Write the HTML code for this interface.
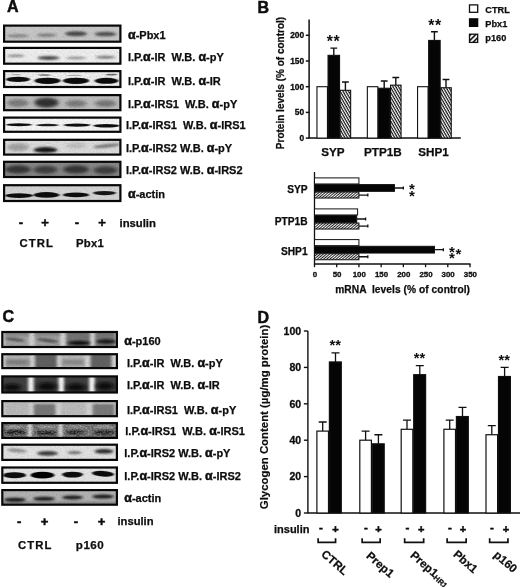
<!DOCTYPE html>
<html><head><meta charset="utf-8"><title>Figure</title>
<style>html,body{margin:0;padding:0;background:#fff;}svg{display:block;}text{font-family:"Liberation Sans", sans-serif;font-weight:bold;fill:#0d0d0d;}</style>
</head><body>
<svg width="520" height="587" viewBox="0 0 520 587">
<defs>
<filter id="b1" x="-30%" y="-80%" width="160%" height="260%"><feGaussianBlur stdDeviation="1.6 0.9"/></filter>
<filter id="b2" x="-30%" y="-80%" width="160%" height="260%"><feGaussianBlur stdDeviation="2.2 1.6"/></filter>
<filter id="b3" x="-30%" y="-80%" width="160%" height="260%"><feGaussianBlur stdDeviation="1.2 0.6"/></filter>
<filter id="b4" x="-30%" y="-30%" width="160%" height="160%"><feGaussianBlur stdDeviation="1.5 1.0"/></filter>
<filter id="b5" x="-60%" y="-30%" width="220%" height="160%"><feGaussianBlur stdDeviation="1.8 0.5"/></filter>
<filter id="grain" x="0" y="0" width="100%" height="100%"><feTurbulence type="fractalNoise" baseFrequency="0.55 0.9" numOctaves="2" seed="7" result="n"/><feColorMatrix type="matrix" values="0 0 0 0 0  0 0 0 0 0  0 0 0 0 0  1.6 0 0 0 -0.55"/><feGaussianBlur stdDeviation="0.5"/></filter>
<filter id="grainw" x="0" y="0" width="100%" height="100%"><feTurbulence type="fractalNoise" baseFrequency="0.5 0.8" numOctaves="2" seed="23" result="n"/><feColorMatrix type="matrix" values="0 0 0 0 1  0 0 0 0 1  0 0 0 0 1  0 1.6 0 0 -0.6"/><feGaussianBlur stdDeviation="0.5"/></filter>
<pattern id="hat" width="2.4" height="2.4" patternUnits="userSpaceOnUse" patternTransform="rotate(60)"><rect width="2.4" height="2.4" fill="#fff"/><rect width="2.4" height="1.2" fill="#111"/></pattern>
<pattern id="hat2" width="2" height="2" patternUnits="userSpaceOnUse" patternTransform="rotate(-40)"><rect width="2" height="2" fill="#fff"/><rect width="2" height="1" fill="#222"/></pattern>
<pattern id="hat3" width="3.6" height="3.6" patternUnits="userSpaceOnUse" patternTransform="rotate(-45)"><rect width="3.6" height="3.6" fill="#fff"/><rect width="3.6" height="1.6" fill="#111"/></pattern>
</defs>
<rect width="520" height="587" fill="#fff"/>
<text x="7.00" y="12.00" font-size="16.00" text-anchor="start"  stroke="#0d0d0d" stroke-width="0.50">A</text>
<clipPath id="c1"><rect x="4.10" y="25.60" width="116.30" height="16.10"/></clipPath>
<g clip-path="url(#c1)">
<rect x="3.00" y="24.50" width="118.50" height="18.30" fill="#c9c9c9"/>
<g filter="url(#b1)"><ellipse cx="18.00" cy="35.85" rx="11.00" ry="1.70" fill="#858585" opacity="1"/></g>
<g filter="url(#b1)"><ellipse cx="46.50" cy="35.11" rx="10.00" ry="1.70" fill="#7c7c7c" opacity="1"/></g>
<g filter="url(#b1)"><ellipse cx="76.00" cy="33.65" rx="11.00" ry="2.50" fill="#484848" opacity="1"/></g>
<g filter="url(#b1)"><ellipse cx="105.50" cy="34.02" rx="11.00" ry="2.30" fill="#525252" opacity="1"/></g>
<rect x="3.00" y="24.50" width="118.50" height="18.30" fill="#000" opacity="0.12" filter="url(#grain)"/>
</g>
<rect x="4.10" y="25.60" width="116.30" height="16.10" fill="none" stroke="#080808" stroke-width="2.20"/>
<clipPath id="c2"><rect x="4.10" y="47.90" width="116.30" height="15.80"/></clipPath>
<g clip-path="url(#c2)">
<rect x="3.00" y="46.80" width="118.50" height="18.00" fill="#f1f1f1"/>
<g filter="url(#b1)"><ellipse cx="16.00" cy="55.80" rx="9.00" ry="1.20" fill="#8a8a8a" opacity="1"/></g>
<g filter="url(#b1)"><ellipse cx="48.50" cy="57.96" rx="11.00" ry="2.00" fill="#484848" opacity="1"/></g>
<g filter="url(#b1)"><ellipse cx="76.00" cy="57.96" rx="10.00" ry="1.20" fill="#8c8c8c" opacity="1"/></g>
<g filter="url(#b1)"><ellipse cx="105.50" cy="57.24" rx="10.00" ry="1.40" fill="#777" opacity="1"/></g>
<rect x="3.00" y="46.80" width="118.50" height="18.00" fill="#000" opacity="0.12" filter="url(#grain)"/>
</g>
<rect x="4.10" y="47.90" width="116.30" height="15.80" fill="none" stroke="#080808" stroke-width="2.20"/>
<clipPath id="c3"><rect x="4.10" y="71.10" width="116.30" height="15.90"/></clipPath>
<g clip-path="url(#c3)">
<rect x="3.00" y="70.00" width="118.50" height="18.10" fill="#f4f4f4"/>
<g filter="url(#b3)"><ellipse cx="18.00" cy="79.41" rx="12.00" ry="2.60" fill="#0c0c0c" opacity="1"/></g>
<g filter="url(#b3)"><ellipse cx="47.50" cy="80.86" rx="13.00" ry="3.20" fill="#080808" opacity="1"/></g>
<g filter="url(#b3)"><ellipse cx="76.00" cy="80.86" rx="13.00" ry="3.20" fill="#080808" opacity="1"/></g>
<g filter="url(#b3)"><ellipse cx="106.50" cy="80.86" rx="12.00" ry="3.00" fill="#101010" opacity="1"/></g>
<g filter="url(#b3)"><ellipse cx="44.50" cy="75.07" rx="6.00" ry="0.80" fill="#333" opacity="0.7"/></g>
<g filter="url(#b3)"><ellipse cx="111.50" cy="74.53" rx="6.00" ry="0.90" fill="#333" opacity="0.7"/></g>
<g filter="url(#b3)"><ellipse cx="16.00" cy="74.53" rx="5.00" ry="0.60" fill="#777" opacity="0.6"/></g>
<g filter="url(#b3)"><ellipse cx="74.00" cy="75.43" rx="8.00" ry="0.60" fill="#888" opacity="0.6"/></g>
<rect x="3.00" y="70.00" width="118.50" height="18.10" fill="#000" opacity="0.18" filter="url(#grain)"/>
</g>
<rect x="4.10" y="71.10" width="116.30" height="15.90" fill="none" stroke="#080808" stroke-width="2.20"/>
<clipPath id="c4"><rect x="4.10" y="95.10" width="116.30" height="15.10"/></clipPath>
<g clip-path="url(#c4)">
<rect x="3.00" y="94.00" width="118.50" height="17.30" fill="#c0c0c0"/>
<g filter="url(#b2)"><ellipse cx="18.00" cy="103.00" rx="11.00" ry="4.00" fill="#7d7d7d" opacity="1"/></g>
<g filter="url(#b2)"><ellipse cx="46.50" cy="102.65" rx="12.00" ry="5.00" fill="#333" opacity="1"/></g>
<g filter="url(#b2)"><ellipse cx="76.00" cy="103.52" rx="11.00" ry="3.50" fill="#7a7a7a" opacity="1"/></g>
<g filter="url(#b2)"><ellipse cx="105.50" cy="103.52" rx="11.00" ry="3.50" fill="#777" opacity="1"/></g>
<rect x="3.00" y="94.00" width="118.50" height="17.30" fill="#000" opacity="0.12" filter="url(#grain)"/>
</g>
<rect x="4.10" y="95.10" width="116.30" height="15.10" fill="none" stroke="#080808" stroke-width="2.20"/>
<clipPath id="c5"><rect x="4.10" y="117.60" width="116.30" height="14.20"/></clipPath>
<g clip-path="url(#c5)">
<rect x="3.00" y="116.50" width="118.50" height="16.40" fill="#f7f7f7"/>
<g filter="url(#b3)"><ellipse cx="19.00" cy="124.70" rx="13.00" ry="1.50" fill="#111" opacity="1"/></g>
<g filter="url(#b3)"><ellipse cx="47.50" cy="125.03" rx="11.50" ry="1.20" fill="#1c1c1c" opacity="1"/></g>
<g filter="url(#b3)"><ellipse cx="77.00" cy="125.03" rx="13.50" ry="1.60" fill="#111" opacity="1"/></g>
<g filter="url(#b3)"><ellipse cx="106.50" cy="125.68" rx="13.00" ry="1.70" fill="#111" opacity="1"/></g>
<rect x="3.00" y="116.50" width="118.50" height="16.40" fill="#000" opacity="0.12" filter="url(#grain)"/>
</g>
<rect x="4.10" y="117.60" width="116.30" height="14.20" fill="none" stroke="#080808" stroke-width="2.20"/>
<clipPath id="c6"><rect x="4.10" y="139.80" width="116.30" height="14.80"/></clipPath>
<g clip-path="url(#c6)">
<rect x="3.00" y="138.70" width="118.50" height="17.00" fill="#dedede"/>
<g filter="url(#b2)"><ellipse cx="18.00" cy="147.20" rx="11.00" ry="4.00" fill="#a2a2a2" opacity="1"/></g>
<g filter="url(#b1)"><ellipse cx="45.50" cy="149.92" rx="12.00" ry="2.80" fill="#161616" opacity="1"/></g>
<g filter="url(#b2)"><ellipse cx="76.00" cy="145.50" rx="10.00" ry="3.00" fill="#bdbdbd" opacity="1"/></g>
<g filter="url(#b1)"><ellipse cx="106.50" cy="145.84" rx="13.50" ry="1.90" fill="#7c7c7c" opacity="1" transform="rotate(-6 106.50 145.84)"/></g>
<rect x="3.00" y="138.70" width="118.50" height="17.00" fill="#000" opacity="0.12" filter="url(#grain)"/>
</g>
<rect x="4.10" y="139.80" width="116.30" height="14.80" fill="none" stroke="#080808" stroke-width="2.20"/>
<clipPath id="c7"><rect x="4.10" y="161.80" width="116.30" height="15.20"/></clipPath>
<g clip-path="url(#c7)">
<rect x="3.00" y="160.70" width="118.50" height="17.40" fill="#8a8a8a"/>
<g filter="url(#b2)"><ellipse cx="18.00" cy="169.40" rx="13.00" ry="4.20" fill="#343434" opacity="1"/></g>
<g filter="url(#b2)"><ellipse cx="45.50" cy="169.75" rx="12.00" ry="4.00" fill="#3c3c3c" opacity="1"/></g>
<g filter="url(#b2)"><ellipse cx="76.00" cy="169.40" rx="13.00" ry="4.20" fill="#343434" opacity="1"/></g>
<g filter="url(#b2)"><ellipse cx="105.50" cy="170.27" rx="12.00" ry="4.00" fill="#3c3c3c" opacity="1"/></g>
<rect x="3.00" y="160.70" width="118.50" height="17.40" fill="#000" opacity="0.12" filter="url(#grain)"/>
</g>
<rect x="4.10" y="161.80" width="116.30" height="15.20" fill="none" stroke="#080808" stroke-width="2.20"/>
<clipPath id="c8"><rect x="4.10" y="185.20" width="116.30" height="15.80"/></clipPath>
<g clip-path="url(#c8)">
<rect x="3.00" y="184.10" width="118.50" height="18.00" fill="#d6d6d6"/>
<g filter="url(#b3)"><ellipse cx="19.00" cy="195.62" rx="14.00" ry="2.40" fill="#111" opacity="1"/></g>
<g filter="url(#b3)"><ellipse cx="46.50" cy="194.90" rx="13.00" ry="2.80" fill="#0c0c0c" opacity="1"/></g>
<g filter="url(#b3)"><ellipse cx="76.00" cy="194.90" rx="13.00" ry="2.40" fill="#111" opacity="1"/></g>
<g filter="url(#b3)"><ellipse cx="104.50" cy="193.10" rx="11.50" ry="2.10" fill="#161616" opacity="1"/></g>
<rect x="3.00" y="184.10" width="118.50" height="18.00" fill="#000" opacity="0.12" filter="url(#grain)"/>
</g>
<rect x="4.10" y="185.20" width="116.30" height="15.80" fill="none" stroke="#080808" stroke-width="2.20"/>
<text x="128.00" y="39.15" font-size="11.00" text-anchor="start" xml:space="preserve" stroke="#0d0d0d" stroke-width="0.25"><tspan font-size="12.43" stroke-width="0.5">α</tspan>-Pbx1</text>
<text x="128.00" y="61.30" font-size="11.00" text-anchor="start" xml:space="preserve" stroke="#0d0d0d" stroke-width="0.25">I.P.<tspan font-size="12.43" stroke-width="0.5">α</tspan>-IR  W.B. <tspan font-size="12.43" stroke-width="0.5">α</tspan>-pY</text>
<text x="128.00" y="84.55" font-size="11.00" text-anchor="start" xml:space="preserve" stroke="#0d0d0d" stroke-width="0.25">I.P.<tspan font-size="12.43" stroke-width="0.5">α</tspan>-IR  W.B. <tspan font-size="12.43" stroke-width="0.5">α</tspan>-IR</text>
<text x="128.00" y="108.15" font-size="11.00" text-anchor="start" xml:space="preserve" stroke="#0d0d0d" stroke-width="0.25">I.P.<tspan font-size="12.43" stroke-width="0.5">α</tspan>-IRS1  W.B. <tspan font-size="12.43" stroke-width="0.5">α</tspan>-pY</text>
<text x="126.00" y="129.20" font-size="11.00" text-anchor="start" xml:space="preserve" stroke="#0d0d0d" stroke-width="0.25">I.P.<tspan font-size="12.43" stroke-width="0.5">α</tspan>-IRS1  W.B. <tspan font-size="12.43" stroke-width="0.5">α</tspan>-IRS1</text>
<text x="126.00" y="151.70" font-size="11.00" text-anchor="start" xml:space="preserve" stroke="#0d0d0d" stroke-width="0.25">I.P.<tspan font-size="12.43" stroke-width="0.5">α</tspan>-IRS2 W.B. <tspan font-size="12.43" stroke-width="0.5">α</tspan>-pY</text>
<text x="126.00" y="173.90" font-size="11.00" text-anchor="start" xml:space="preserve" stroke="#0d0d0d" stroke-width="0.25">I.P.<tspan font-size="12.43" stroke-width="0.5">α</tspan>-IRS2 W.B. <tspan font-size="12.43" stroke-width="0.5">α</tspan>-IRS2</text>
<text x="128.00" y="197.60" font-size="11.00" text-anchor="start" xml:space="preserve" stroke="#0d0d0d" stroke-width="0.25"><tspan font-size="12.43" stroke-width="0.5">α</tspan>-actin</text>
<text x="21.00" y="227.30" font-size="13.00" text-anchor="middle"  stroke="#0d0d0d" stroke-width="0.50">-</text>
<text x="45.00" y="227.30" font-size="13.00" text-anchor="middle"  stroke="#0d0d0d" stroke-width="0.50">+</text>
<text x="77.00" y="227.30" font-size="13.00" text-anchor="middle"  stroke="#0d0d0d" stroke-width="0.50">-</text>
<text x="102.00" y="227.30" font-size="13.00" text-anchor="middle"  stroke="#0d0d0d" stroke-width="0.50">+</text>
<text x="119.50" y="227.00" font-size="11.30" text-anchor="start"  stroke="#0d0d0d" stroke-width="0.25">insulin</text>
<text x="19.50" y="246.60" font-size="11.30" text-anchor="start" letter-spacing="1.1" stroke="#0d0d0d" stroke-width="0.25">CTRL</text>
<text x="76.00" y="246.60" font-size="11.30" text-anchor="start" letter-spacing="0.3" stroke="#0d0d0d" stroke-width="0.25">Pbx1</text>
<text x="257.50" y="12.50" font-size="16.00" text-anchor="start"  stroke="#0d0d0d" stroke-width="0.50">B</text>
<g stroke="#111" stroke-width="1.5" fill="none">
<path d="M309.10 19.6V138.10H460.8"/>
<path d="M305.80 138.10H309.40"/>
<path d="M305.80 112.40H309.40"/>
<path d="M305.80 86.70H309.40"/>
<path d="M305.80 61.00H309.40"/>
<path d="M305.80 35.30H309.40"/>
</g>
<text x="304.20" y="141.10" font-size="8.40" text-anchor="end"  stroke="#0d0d0d" stroke-width="0.30">0</text>
<text x="304.20" y="115.40" font-size="8.40" text-anchor="end"  stroke="#0d0d0d" stroke-width="0.30">50</text>
<text x="304.20" y="89.70" font-size="8.40" text-anchor="end"  stroke="#0d0d0d" stroke-width="0.30">100</text>
<text x="304.20" y="64.00" font-size="8.40" text-anchor="end"  stroke="#0d0d0d" stroke-width="0.30">150</text>
<text x="304.20" y="38.30" font-size="8.40" text-anchor="end"  stroke="#0d0d0d" stroke-width="0.30">200</text>
<rect x="316.95" y="86.70" width="10.50" height="51.40" fill="#fff" stroke="#111" stroke-width="1.10"/>
<path d="M333.80 55.35V48.15M330.40 48.15H337.20" stroke="#111" stroke-width="1.4" fill="none"/>
<rect x="328.05" y="55.35" width="11.50" height="82.75" fill="#050505" stroke="#111" stroke-width="1.10"/>
<path d="M345.40 90.30V82.07M342.00 82.07H348.80" stroke="#111" stroke-width="1.4" fill="none"/>
<rect x="340.15" y="90.30" width="10.50" height="47.80" fill="url(#hat)" stroke="#111" stroke-width="1.10"/>
<rect x="367.35" y="86.70" width="10.50" height="51.40" fill="#fff" stroke="#111" stroke-width="1.10"/>
<path d="M384.20 88.24V81.05M380.80 81.05H387.60" stroke="#111" stroke-width="1.4" fill="none"/>
<rect x="378.45" y="88.24" width="11.50" height="49.86" fill="#050505" stroke="#111" stroke-width="1.10"/>
<path d="M395.80 85.16V77.45M392.40 77.45H399.20" stroke="#111" stroke-width="1.4" fill="none"/>
<rect x="390.55" y="85.16" width="10.50" height="52.94" fill="url(#hat)" stroke="#111" stroke-width="1.10"/>
<rect x="417.55" y="86.70" width="10.50" height="51.40" fill="#fff" stroke="#111" stroke-width="1.10"/>
<path d="M434.40 40.44V31.70M431.00 31.70H437.80" stroke="#111" stroke-width="1.4" fill="none"/>
<rect x="428.65" y="40.44" width="11.50" height="97.66" fill="#050505" stroke="#111" stroke-width="1.10"/>
<path d="M446.00 87.73V79.50M442.60 79.50H449.40" stroke="#111" stroke-width="1.4" fill="none"/>
<rect x="440.75" y="87.73" width="10.50" height="50.37" fill="url(#hat)" stroke="#111" stroke-width="1.10"/>
<text x="333.60" y="46.60" font-size="15.80" text-anchor="middle" letter-spacing="0.6">**</text>
<text x="434.90" y="30.60" font-size="15.80" text-anchor="middle" letter-spacing="0.6">**</text>
<text x="332.90" y="156.20" font-size="11.70" text-anchor="middle"  stroke="#0d0d0d" stroke-width="0.25">SYP</text>
<text x="382.80" y="156.20" font-size="11.70" text-anchor="middle"  stroke="#0d0d0d" stroke-width="0.25">PTP1B</text>
<text x="433.60" y="156.20" font-size="11.70" text-anchor="middle"  stroke="#0d0d0d" stroke-width="0.25">SHP1</text>
<text transform="translate(284 83) rotate(-90)" font-size="10" text-anchor="middle" stroke="#111" stroke-width=".25">Protein levels (% of control)</text>
<rect x="469.5" y="4.9" width="8.2" height="7.4" fill="#fff" stroke="#111" stroke-width="1.3"/>
<rect x="468.9" y="18.2" width="9.4" height="8.8" fill="#050505"/>
<rect x="469.5" y="34.2" width="8.2" height="8.2" fill="url(#hat3)" stroke="#111" stroke-width="1.3"/>
<text x="485.30" y="12.60" font-size="9.20" text-anchor="start"  stroke="#0d0d0d" stroke-width="0.25">CTRL</text>
<text x="485.30" y="27.00" font-size="9.20" text-anchor="start"  stroke="#0d0d0d" stroke-width="0.25">Pbx1</text>
<text x="485.30" y="41.40" font-size="9.20" text-anchor="start"  stroke="#0d0d0d" stroke-width="0.25">p160</text>
<g stroke="#111" stroke-width="1.3" fill="none">
<path d="M314.50 172.00V264.00H470.61"/>
<path d="M314.50 264.00V267.20"/>
<path d="M336.71 264.00V267.20"/>
<path d="M358.93 264.00V267.20"/>
<path d="M381.14 264.00V267.20"/>
<path d="M403.36 264.00V267.20"/>
<path d="M425.57 264.00V267.20"/>
<path d="M447.79 264.00V267.20"/>
<path d="M470.00 264.00V267.20"/>
</g>
<text x="314.90" y="277.20" font-size="7.90" text-anchor="middle"  stroke="#0d0d0d" stroke-width="0.30">0</text>
<text x="337.11" y="277.20" font-size="7.90" text-anchor="middle"  stroke="#0d0d0d" stroke-width="0.30">50</text>
<text x="359.33" y="277.20" font-size="7.90" text-anchor="middle"  stroke="#0d0d0d" stroke-width="0.30">100</text>
<text x="381.54" y="277.20" font-size="7.90" text-anchor="middle"  stroke="#0d0d0d" stroke-width="0.30">150</text>
<text x="403.76" y="277.20" font-size="7.90" text-anchor="middle"  stroke="#0d0d0d" stroke-width="0.30">200</text>
<text x="425.97" y="277.20" font-size="7.90" text-anchor="middle"  stroke="#0d0d0d" stroke-width="0.30">250</text>
<text x="448.19" y="277.20" font-size="7.90" text-anchor="middle"  stroke="#0d0d0d" stroke-width="0.30">300</text>
<text x="470.40" y="277.20" font-size="7.90" text-anchor="middle"  stroke="#0d0d0d" stroke-width="0.30">350</text>
<rect x="314.50" y="177.90" width="44.43" height="6.05" fill="#fff" stroke="#111" stroke-width="1.00"/>
<path d="M394.47 187.98H403.36M403.36 186.48V189.48" stroke="#111" stroke-width="1.3" fill="none"/>
<rect x="314.50" y="184.60" width="79.97" height="6.75" fill="#050505" stroke="#111" stroke-width="1.00"/>
<path d="M358.93 195.03H367.82M367.82 193.53V196.53" stroke="#111" stroke-width="1.3" fill="none"/>
<rect x="314.50" y="192.00" width="44.43" height="6.05" fill="url(#hat2)" stroke="#111" stroke-width="1.00"/>
<rect x="314.50" y="208.90" width="43.10" height="6.05" fill="#fff" stroke="#111" stroke-width="1.00"/>
<path d="M356.71 218.98H365.59M365.59 217.48V220.48" stroke="#111" stroke-width="1.3" fill="none"/>
<rect x="314.50" y="215.60" width="42.21" height="6.75" fill="#050505" stroke="#111" stroke-width="1.00"/>
<path d="M358.93 226.03H367.82M367.82 224.53V227.53" stroke="#111" stroke-width="1.3" fill="none"/>
<rect x="314.50" y="223.00" width="44.43" height="6.05" fill="url(#hat2)" stroke="#111" stroke-width="1.00"/>
<rect x="314.50" y="239.60" width="44.43" height="6.05" fill="#fff" stroke="#111" stroke-width="1.00"/>
<path d="M434.46 249.68H443.35M443.35 248.18V251.18" stroke="#111" stroke-width="1.3" fill="none"/>
<rect x="314.50" y="246.30" width="119.96" height="6.75" fill="#050505" stroke="#111" stroke-width="1.00"/>
<path d="M358.93 256.73H367.82M367.82 255.23V258.23" stroke="#111" stroke-width="1.3" fill="none"/>
<rect x="314.50" y="253.70" width="44.43" height="6.05" fill="url(#hat2)" stroke="#111" stroke-width="1.00"/>
<text x="307.60" y="192.80" font-size="10.20" text-anchor="end"  stroke="#0d0d0d" stroke-width="0.25">SYP</text>
<text x="307.60" y="225.20" font-size="10.20" text-anchor="end"  stroke="#0d0d0d" stroke-width="0.25">PTP1B</text>
<text x="307.60" y="255.00" font-size="10.20" text-anchor="end"  stroke="#0d0d0d" stroke-width="0.25">SHP1</text>
<text x="335.20" y="292.60" font-size="10.20" text-anchor="start" xml:space="preserve" letter-spacing="0.06" stroke="#0d0d0d" stroke-width="0.25">mRNA  levels (% of control)</text>
<text x="411.80" y="194.00" font-size="15.00" text-anchor="middle" >*</text>
<text x="411.80" y="201.10" font-size="15.00" text-anchor="middle" >*</text>
<text x="452.00" y="256.50" font-size="15.00" text-anchor="middle" >*</text>
<text x="452.00" y="262.90" font-size="15.00" text-anchor="middle" >*</text>
<text x="458.50" y="259.10" font-size="15.00" text-anchor="middle" >*</text>
<text x="2.50" y="322.00" font-size="16.00" text-anchor="start"  stroke="#0d0d0d" stroke-width="0.50">C</text>
<clipPath id="c9"><rect x="2.30" y="332.00" width="114.60" height="15.00"/></clipPath>
<g clip-path="url(#c9)">
<rect x="1.20" y="330.90" width="116.80" height="17.20" fill="#d4d4d4"/>
<rect x="4.60" y="330.90" width="24.40" height="17.20" fill="#a4a4a4" opacity="1" filter="url(#b4)"/>
<rect x="34.60" y="330.90" width="25.40" height="17.20" fill="#a2a2a2" opacity="1" filter="url(#b4)"/>
<rect x="66.00" y="330.90" width="24.00" height="17.20" fill="#747474" opacity="1" filter="url(#b4)"/>
<rect x="95.00" y="330.90" width="20.50" height="17.20" fill="#787878" opacity="1" filter="url(#b4)"/>
<rect x="4.60" y="329.18" width="24.40" height="6.88" fill="#808080" opacity="0.7" filter="url(#b4)"/>
<rect x="34.60" y="329.18" width="25.40" height="6.88" fill="#808080" opacity="0.7" filter="url(#b4)"/>
<g filter="url(#b1)"><ellipse cx="14.80" cy="339.50" rx="10.00" ry="1.60" fill="#555" opacity="1" transform="rotate(8 14.80 339.50)"/></g>
<g filter="url(#b1)"><ellipse cx="47.30" cy="340.36" rx="11.00" ry="1.60" fill="#505050" opacity="1" transform="rotate(8 47.30 340.36)"/></g>
<g filter="url(#b1)"><ellipse cx="79.00" cy="342.94" rx="11.50" ry="2.20" fill="#0c0c0c" opacity="1"/></g>
<g filter="url(#b1)"><ellipse cx="106.25" cy="341.56" rx="10.00" ry="2.20" fill="#141414" opacity="1"/></g>
<rect x="1.20" y="330.90" width="116.80" height="17.20" fill="#000" opacity="0.12" filter="url(#grain)"/>
</g>
<rect x="2.30" y="332.00" width="114.60" height="15.00" fill="none" stroke="#080808" stroke-width="2.20"/>
<clipPath id="c10"><rect x="2.30" y="354.20" width="114.60" height="13.90"/></clipPath>
<g clip-path="url(#c10)">
<rect x="1.20" y="353.10" width="116.80" height="16.10" fill="#d6d6d6"/>
<rect x="5.20" y="353.10" width="24.80" height="16.10" fill="#b4b4b4" opacity="1" filter="url(#b4)"/>
<rect x="61.00" y="353.10" width="24.00" height="16.10" fill="#b8b8b8" opacity="1" filter="url(#b4)"/>
<rect x="6.00" y="359.22" width="23.50" height="6.76" fill="#8e8e8e" opacity="1" filter="url(#b4)"/>
<rect x="35.00" y="353.42" width="21.80" height="15.46" fill="#626262" opacity="1" filter="url(#b4)"/>
<rect x="62.00" y="359.22" width="22.00" height="6.76" fill="#989898" opacity="1" filter="url(#b4)"/>
<rect x="90.50" y="353.42" width="21.00" height="15.46" fill="#646464" opacity="1" filter="url(#b4)"/>
<g filter="url(#b1)"><ellipse cx="17.00" cy="361.95" rx="10.00" ry="1.00" fill="#787878" opacity="1"/></g>
<g filter="url(#b1)"><ellipse cx="73.00" cy="361.95" rx="10.00" ry="1.00" fill="#828282" opacity="1"/></g>
<rect x="1.20" y="353.10" width="116.80" height="16.10" fill="#000" opacity="0.12" filter="url(#grain)"/>
</g>
<rect x="2.30" y="354.20" width="114.60" height="13.90" fill="none" stroke="#080808" stroke-width="2.20"/>
<clipPath id="c11"><rect x="2.30" y="376.40" width="114.60" height="16.10"/></clipPath>
<g clip-path="url(#c11)">
<rect x="1.20" y="375.30" width="116.80" height="18.30" fill="#404040"/>
<rect x="28.2" y="320" width="5.5" height="200" fill="#fff" opacity="1" filter="url(#b5)"/><rect x="58.5" y="320" width="5.5" height="200" fill="#fff" opacity="1" filter="url(#b5)"/><rect x="89.2" y="320" width="5.5" height="200" fill="#fff" opacity="1" filter="url(#b5)"/>
<g filter="url(#b2)"><ellipse cx="12.00" cy="387.38" rx="9.00" ry="3.60" fill="#080808" opacity="1"/></g>
<g filter="url(#b2)"><ellipse cx="47.00" cy="386.65" rx="10.00" ry="4.20" fill="#101010" opacity="1"/></g>
<g filter="url(#b2)"><ellipse cx="76.00" cy="387.38" rx="10.00" ry="3.80" fill="#0c0c0c" opacity="1"/></g>
<g filter="url(#b2)"><ellipse cx="105.00" cy="386.28" rx="9.00" ry="4.00" fill="#080808" opacity="1"/></g>
<rect x="1.20" y="375.30" width="116.80" height="18.30" fill="#000" opacity="0.12" filter="url(#grain)"/>
</g>
<rect x="2.30" y="376.40" width="114.60" height="16.10" fill="none" stroke="#080808" stroke-width="2.20"/>
<clipPath id="c12"><rect x="2.30" y="401.10" width="114.60" height="15.10"/></clipPath>
<g clip-path="url(#c12)">
<rect x="1.20" y="400.00" width="116.80" height="17.30" fill="#d2d2d2"/>
<rect x="4.50" y="401.73" width="24.50" height="14.71" fill="#bcbcbc" opacity="1" filter="url(#b4)"/>
<rect x="33.80" y="403.81" width="21.60" height="13.15" fill="#787878" opacity="1" filter="url(#b4)"/>
<rect x="61.00" y="401.73" width="25.00" height="14.71" fill="#bebebe" opacity="1" filter="url(#b4)"/>
<rect x="92.60" y="403.81" width="21.70" height="13.15" fill="#7a7a7a" opacity="1" filter="url(#b4)"/>
<rect x="1.20" y="400.00" width="116.80" height="17.30" fill="#000" opacity="0.12" filter="url(#grain)"/>
</g>
<rect x="2.30" y="401.10" width="114.60" height="15.10" fill="none" stroke="#080808" stroke-width="2.20"/>
<clipPath id="c13"><rect x="2.30" y="423.10" width="114.60" height="14.80"/></clipPath>
<g clip-path="url(#c13)">
<rect x="1.20" y="422.00" width="116.80" height="17.00" fill="#6e6e6e"/>
<rect x="28.2" y="320" width="3.5" height="200" fill="#fff" opacity="0.9" filter="url(#b5)"/><rect x="58.8" y="320" width="3.5" height="200" fill="#fff" opacity="0.9" filter="url(#b5)"/>
<g filter="url(#b1)"><ellipse cx="14.00" cy="427.10" rx="9.00" ry="1.60" fill="#d0d0d0" opacity="0.55"/></g>
<g filter="url(#b1)"><ellipse cx="47.00" cy="426.76" rx="9.00" ry="1.40" fill="#c8c8c8" opacity="0.5"/></g>
<g filter="url(#b1)"><ellipse cx="76.00" cy="426.76" rx="9.00" ry="1.40" fill="#c0c0c0" opacity="0.45"/></g>
<g filter="url(#b1)"><ellipse cx="104.00" cy="426.76" rx="9.00" ry="1.40" fill="#c8c8c8" opacity="0.5"/></g>
<g filter="url(#b1)"><ellipse cx="15.00" cy="432.20" rx="11.00" ry="2.40" fill="#161616" opacity="1"/></g>
<g filter="url(#b1)"><ellipse cx="46.00" cy="432.88" rx="11.00" ry="2.20" fill="#141414" opacity="1"/></g>
<g filter="url(#b1)"><ellipse cx="75.00" cy="432.54" rx="10.00" ry="2.20" fill="#1a1a1a" opacity="1"/></g>
<g filter="url(#b1)"><ellipse cx="104.00" cy="432.54" rx="11.00" ry="2.40" fill="#161616" opacity="1"/></g>
<rect x="1.20" y="422.00" width="116.80" height="17.00" fill="#000" opacity="0.3" filter="url(#grain)"/>
<rect x="1.20" y="422.00" width="116.80" height="17.00" fill="#fff" opacity="0.5" filter="url(#grainw)"/>
</g>
<rect x="2.30" y="423.10" width="114.60" height="14.80" fill="none" stroke="#080808" stroke-width="2.20"/>
<clipPath id="c14"><rect x="2.30" y="444.70" width="114.60" height="15.20"/></clipPath>
<g clip-path="url(#c14)">
<rect x="1.20" y="443.60" width="116.80" height="17.40" fill="#e4e4e4"/>
<g filter="url(#b1)"><ellipse cx="17.00" cy="450.56" rx="10.00" ry="1.80" fill="#8c8c8c" opacity="1" transform="rotate(5 17.00 450.56)"/></g>
<g filter="url(#b1)"><ellipse cx="47.50" cy="453.34" rx="10.50" ry="2.30" fill="#3a3a3a" opacity="1"/></g>
<g filter="url(#b1)"><ellipse cx="74.50" cy="452.65" rx="7.00" ry="1.70" fill="#707070" opacity="1"/></g>
<g filter="url(#b1)"><ellipse cx="104.00" cy="451.26" rx="9.50" ry="2.30" fill="#2a2a2a" opacity="1"/></g>
<rect x="1.20" y="443.60" width="116.80" height="17.40" fill="#000" opacity="0.12" filter="url(#grain)"/>
</g>
<rect x="2.30" y="444.70" width="114.60" height="15.20" fill="none" stroke="#080808" stroke-width="2.20"/>
<clipPath id="c15"><rect x="2.30" y="467.50" width="114.60" height="15.30"/></clipPath>
<g clip-path="url(#c15)">
<rect x="1.20" y="466.40" width="116.80" height="17.50" fill="#e6e6e6"/>
<g filter="url(#b3)"><ellipse cx="14.50" cy="475.15" rx="11.50" ry="3.00" fill="#080808" opacity="1"/></g>
<g filter="url(#b3)"><ellipse cx="42.50" cy="475.15" rx="12.00" ry="3.30" fill="#060606" opacity="1"/></g>
<g filter="url(#b3)"><ellipse cx="72.50" cy="474.62" rx="10.50" ry="2.90" fill="#080808" opacity="1"/></g>
<g filter="url(#b3)"><ellipse cx="103.00" cy="473.75" rx="11.00" ry="2.80" fill="#0a0a0a" opacity="1" transform="rotate(4 103.00 473.75)"/></g>
<rect x="1.20" y="466.40" width="116.80" height="17.50" fill="#000" opacity="0.12" filter="url(#grain)"/>
</g>
<rect x="2.30" y="467.50" width="114.60" height="15.30" fill="none" stroke="#080808" stroke-width="2.20"/>
<clipPath id="c16"><rect x="2.30" y="490.10" width="114.60" height="14.60"/></clipPath>
<g clip-path="url(#c16)">
<rect x="1.20" y="489.00" width="116.80" height="16.80" fill="#b4b4b4"/>
<rect x="0.00" y="501.60" width="120.00" height="5.88" fill="#8a8a8a" opacity="1" filter="url(#b4)"/>
<g filter="url(#b1)"><ellipse cx="15.00" cy="499.75" rx="11.00" ry="2.00" fill="#161616" opacity="1"/></g>
<g filter="url(#b1)"><ellipse cx="44.00" cy="498.74" rx="11.00" ry="2.00" fill="#1a1a1a" opacity="1"/></g>
<g filter="url(#b1)"><ellipse cx="72.50" cy="497.40" rx="10.50" ry="2.00" fill="#161616" opacity="1"/></g>
<g filter="url(#b1)"><ellipse cx="103.00" cy="496.56" rx="11.00" ry="2.00" fill="#141414" opacity="1"/></g>
<rect x="1.20" y="489.00" width="116.80" height="16.80" fill="#000" opacity="0.12" filter="url(#grain)"/>
</g>
<rect x="2.30" y="490.10" width="114.60" height="14.60" fill="none" stroke="#080808" stroke-width="2.20"/>
<text x="124.30" y="344.50" font-size="11.00" text-anchor="start" xml:space="preserve" stroke="#0d0d0d" stroke-width="0.25"><tspan font-size="12.43" stroke-width="0.5">α</tspan>-p160</text>
<text x="127.00" y="366.50" font-size="11.00" text-anchor="start" xml:space="preserve" stroke="#0d0d0d" stroke-width="0.25">I.P.<tspan font-size="12.43" stroke-width="0.5">α</tspan>-IR  W.B. <tspan font-size="12.43" stroke-width="0.5">α</tspan>-pY</text>
<text x="127.00" y="388.80" font-size="11.00" text-anchor="start" xml:space="preserve" stroke="#0d0d0d" stroke-width="0.25">I.P.<tspan font-size="12.43" stroke-width="0.5">α</tspan>-IR  W.B. <tspan font-size="12.43" stroke-width="0.5">α</tspan>-IR</text>
<text x="127.00" y="413.70" font-size="11.00" text-anchor="start" xml:space="preserve" stroke="#0d0d0d" stroke-width="0.25">I.P.<tspan font-size="12.43" stroke-width="0.5">α</tspan>-IRS1  W.B. <tspan font-size="12.43" stroke-width="0.5">α</tspan>-pY</text>
<text x="125.30" y="434.80" font-size="11.00" text-anchor="start" xml:space="preserve" stroke="#0d0d0d" stroke-width="0.25">I.P.<tspan font-size="12.43" stroke-width="0.5">α</tspan>-IRS1  W.B. <tspan font-size="12.43" stroke-width="0.5">α</tspan>-IRS1</text>
<text x="124.30" y="457.00" font-size="11.00" text-anchor="start" xml:space="preserve" stroke="#0d0d0d" stroke-width="0.25">I.P.<tspan font-size="12.43" stroke-width="0.5">α</tspan>-IRS2 W.B. <tspan font-size="12.43" stroke-width="0.5">α</tspan>-pY</text>
<text x="124.30" y="480.00" font-size="11.00" text-anchor="start" xml:space="preserve" stroke="#0d0d0d" stroke-width="0.25">I.P.<tspan font-size="12.43" stroke-width="0.5">α</tspan>-IRS2 W.B. <tspan font-size="12.43" stroke-width="0.5">α</tspan>-IRS2</text>
<text x="124.30" y="502.30" font-size="11.00" text-anchor="start" xml:space="preserve" stroke="#0d0d0d" stroke-width="0.25"><tspan font-size="12.43" stroke-width="0.5">α</tspan>-actin</text>
<text x="19.20" y="525.50" font-size="13.00" text-anchor="middle"  stroke="#0d0d0d" stroke-width="0.50">-</text>
<text x="44.50" y="525.50" font-size="13.00" text-anchor="middle"  stroke="#0d0d0d" stroke-width="0.50">+</text>
<text x="75.90" y="525.50" font-size="13.00" text-anchor="middle"  stroke="#0d0d0d" stroke-width="0.50">-</text>
<text x="101.50" y="525.50" font-size="13.00" text-anchor="middle"  stroke="#0d0d0d" stroke-width="0.50">+</text>
<text x="117.50" y="525.30" font-size="11.20" text-anchor="start"  stroke="#0d0d0d" stroke-width="0.25">insulin</text>
<text x="18.00" y="548.80" font-size="11.30" text-anchor="start" letter-spacing="1.1" stroke="#0d0d0d" stroke-width="0.25">CTRL</text>
<text x="75.80" y="548.80" font-size="11.60" text-anchor="start" letter-spacing="0.5" stroke="#0d0d0d" stroke-width="0.25">p160</text>
<text x="257.50" y="323.00" font-size="16.00" text-anchor="start"  stroke="#0d0d0d" stroke-width="0.50">D</text>
<g stroke="#111" stroke-width="1.4" fill="none">
<path d="M307.90 331.00V513.00H520"/>
<path d="M303.90 513.00H307.90"/>
<path d="M303.90 476.60H307.90"/>
<path d="M303.90 440.20H307.90"/>
<path d="M303.90 403.80H307.90"/>
<path d="M303.90 367.40H307.90"/>
<path d="M303.90 331.00H307.90"/>
</g>
<text x="301.10" y="516.80" font-size="10.50" text-anchor="end"  stroke="#0d0d0d" stroke-width="0.30">0</text>
<text x="301.10" y="480.40" font-size="10.50" text-anchor="end"  stroke="#0d0d0d" stroke-width="0.30">20</text>
<text x="301.10" y="444.00" font-size="10.50" text-anchor="end"  stroke="#0d0d0d" stroke-width="0.30">40</text>
<text x="301.10" y="407.60" font-size="10.50" text-anchor="end"  stroke="#0d0d0d" stroke-width="0.30">60</text>
<text x="301.10" y="371.20" font-size="10.50" text-anchor="end"  stroke="#0d0d0d" stroke-width="0.30">80</text>
<text x="301.10" y="334.80" font-size="10.50" text-anchor="end"  stroke="#0d0d0d" stroke-width="0.30">100</text>
<path d="M322.70 431.10V422.00M318.70 422.00H326.70" stroke="#111" stroke-width="1.3" fill="none"/>
<rect x="316.90" y="431.10" width="11.60" height="81.90" fill="#fff" stroke="#111" stroke-width="1.2"/>
<path d="M335.50 361.94V352.84M331.50 352.84H339.50" stroke="#111" stroke-width="1.3" fill="none"/>
<rect x="329.40" y="361.94" width="11.90" height="151.06" fill="#050505" stroke="#111" stroke-width="1.2"/>
<text x="335.20" y="350.24" font-size="14.60" text-anchor="middle" >**</text>
<text x="321.00" y="530.80" font-size="11.50" text-anchor="middle"  stroke="#0d0d0d" stroke-width="0.50">-</text>
<text x="335.50" y="533.30" font-size="11.00" text-anchor="middle"  stroke="#0d0d0d" stroke-width="0.50">+</text>
<path d="M318.15 538.2V542.4H335.55V538.2" stroke="#111" stroke-width="1.7" fill="none"/>
<text transform="translate(320.50 555.30) rotate(41)" font-size="11.6" stroke="#111" stroke-width=".25">CTRL</text>
<path d="M365.60 440.20V431.10M361.60 431.10H369.60" stroke="#111" stroke-width="1.3" fill="none"/>
<rect x="359.80" y="440.20" width="11.60" height="72.80" fill="#fff" stroke="#111" stroke-width="1.2"/>
<path d="M378.40 443.84V434.74M374.40 434.74H382.40" stroke="#111" stroke-width="1.3" fill="none"/>
<rect x="372.30" y="443.84" width="11.90" height="69.16" fill="#050505" stroke="#111" stroke-width="1.2"/>
<text x="366.00" y="530.80" font-size="11.50" text-anchor="middle"  stroke="#0d0d0d" stroke-width="0.50">-</text>
<text x="378.50" y="533.30" font-size="11.00" text-anchor="middle"  stroke="#0d0d0d" stroke-width="0.50">+</text>
<path d="M362.15 538.2V542.4H380.15V538.2" stroke="#111" stroke-width="1.7" fill="none"/>
<text transform="translate(365.50 557.00) rotate(41)" font-size="11.6" stroke="#111" stroke-width=".25">Prep1</text>
<path d="M407.00 429.28V420.18M403.00 420.18H411.00" stroke="#111" stroke-width="1.3" fill="none"/>
<rect x="401.20" y="429.28" width="11.60" height="83.72" fill="#fff" stroke="#111" stroke-width="1.2"/>
<path d="M419.80 374.68V365.58M415.80 365.58H423.80" stroke="#111" stroke-width="1.3" fill="none"/>
<rect x="413.70" y="374.68" width="11.90" height="138.32" fill="#050505" stroke="#111" stroke-width="1.2"/>
<text x="419.50" y="362.98" font-size="14.60" text-anchor="middle" >**</text>
<text x="407.50" y="530.80" font-size="11.50" text-anchor="middle"  stroke="#0d0d0d" stroke-width="0.50">-</text>
<text x="421.20" y="533.30" font-size="11.00" text-anchor="middle"  stroke="#0d0d0d" stroke-width="0.50">+</text>
<path d="M404.65 538.2V542.4H423.65V538.2" stroke="#111" stroke-width="1.7" fill="none"/>
<text transform="translate(409.50 556.50) rotate(41)" font-size="11.6" stroke="#111" stroke-width=".25">Prep1<tspan font-size="7.6" dy="1.2">HR1</tspan></text>
<path d="M449.70 429.28V420.18M445.70 420.18H453.70" stroke="#111" stroke-width="1.3" fill="none"/>
<rect x="443.90" y="429.28" width="11.60" height="83.72" fill="#fff" stroke="#111" stroke-width="1.2"/>
<path d="M462.50 416.54V407.44M458.50 407.44H466.50" stroke="#111" stroke-width="1.3" fill="none"/>
<rect x="456.40" y="416.54" width="11.90" height="96.46" fill="#050505" stroke="#111" stroke-width="1.2"/>
<text x="450.00" y="530.80" font-size="11.50" text-anchor="middle"  stroke="#0d0d0d" stroke-width="0.50">-</text>
<text x="463.00" y="533.30" font-size="11.00" text-anchor="middle"  stroke="#0d0d0d" stroke-width="0.50">+</text>
<path d="M447.15 538.2V542.4H466.15V538.2" stroke="#111" stroke-width="1.7" fill="none"/>
<text transform="translate(452.50 555.50) rotate(41)" font-size="11.6" stroke="#111" stroke-width=".25">Pbx1</text>
<path d="M491.80 434.74V425.64M487.80 425.64H495.80" stroke="#111" stroke-width="1.3" fill="none"/>
<rect x="486.00" y="434.74" width="11.60" height="78.26" fill="#fff" stroke="#111" stroke-width="1.2"/>
<path d="M504.60 376.50V367.40M500.60 367.40H508.60" stroke="#111" stroke-width="1.3" fill="none"/>
<rect x="498.50" y="376.50" width="11.90" height="136.50" fill="#050505" stroke="#111" stroke-width="1.2"/>
<text x="504.30" y="364.80" font-size="14.60" text-anchor="middle" >**</text>
<text x="492.00" y="530.80" font-size="11.50" text-anchor="middle"  stroke="#0d0d0d" stroke-width="0.50">-</text>
<text x="506.00" y="533.30" font-size="11.00" text-anchor="middle"  stroke="#0d0d0d" stroke-width="0.50">+</text>
<path d="M489.65 538.2V542.4H507.95V538.2" stroke="#111" stroke-width="1.7" fill="none"/>
<text transform="translate(493.00 556.00) rotate(41)" font-size="11.6" stroke="#111" stroke-width=".25">p160</text>
<text x="274.00" y="533.20" font-size="11.00" text-anchor="start"  stroke="#0d0d0d" stroke-width="0.25">insulin</text>
<text transform="translate(268.4 417) rotate(-90)" font-size="11.4" text-anchor="middle" stroke="#111" stroke-width=".2">Glycogen Content (µg/mg protein)</text>
</svg></body></html>
